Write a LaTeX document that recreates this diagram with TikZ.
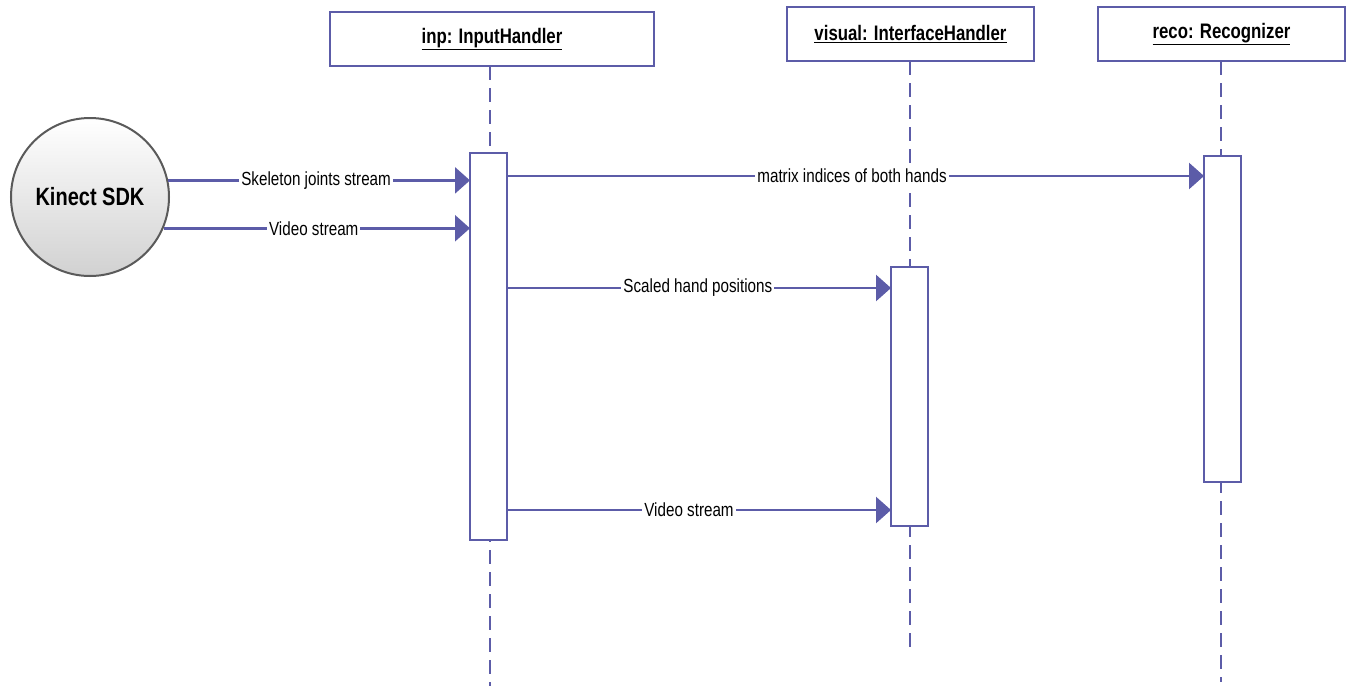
\documentclass[tikz,border=0pt]{standalone}
\usepackage{fontspec}
\setmainfont{Liberation Sans}
\newfontfamily\narrowfont[FakeStretch=0.8]{Liberation Sans}
\usetikzlibrary{arrows.meta}
\definecolor{umlblue}{RGB}{92,92,168}
\definecolor{sdkedge}{RGB}{90,90,90}
\tikzset{
  x=1pt, y=-1pt,
  objbox/.style={draw=umlblue, line width=2pt, fill=white, inner sep=0pt, outer sep=0pt,
     font=\narrowfont\fontsize{21}{24}\selectfont\bfseries},
  actbox/.style={draw=umlblue, line width=2pt, fill=white, inner sep=0pt, outer sep=0pt, minimum width=37pt},
  lifeline/.style={draw=umlblue, line width=2pt, dash pattern=on 14pt off 8pt},
  msg/.style={draw=umlblue, line width=2.6pt, -{Triangle[length=15pt,width=26pt]}},
  msglabel/.style={fill=white, inner sep=2pt, font=\narrowfont\fontsize{19}{21}\selectfont, text=black},
}
\begin{document}
\begin{tikzpicture}
\useasboundingbox (0,0) rectangle (1353,686);
% object boxes
\node[objbox, minimum width=324pt, minimum height=54pt] (inp) at (492,39) {\underline{inp: InputHandler}};
\node[objbox, minimum width=247pt, minimum height=54pt] (visual) at (910.5,34) {\underline{visual: InterfaceHandler}};
\node[objbox, minimum width=247pt, minimum height=54pt] (reco) at (1221.5,34) {\underline{reco: Recognizer}};
% lifeline end points
\coordinate (inpEnd) at (490,686);
\coordinate (visualEnd) at (910,652);
\coordinate (recoEnd) at (1221,682);
\draw[lifeline] (inp.south -| inpEnd) -- (inpEnd);
\draw[lifeline] (visual.south -| visualEnd) -- (visualEnd);
\draw[lifeline] (reco.south -| recoEnd) -- (recoEnd);
% activation boxes
\node[actbox, minimum height=387pt] (inpAct) at (488.5,346.5) {};
\node[actbox, minimum height=259pt] (visualAct) at (909.5,396.5) {};
\node[actbox, minimum height=326pt] (recoAct) at (1222.5,319) {};
% Kinect SDK
\node[circle, draw=sdkedge, line width=2pt, minimum size=158pt, inner sep=0pt,
      top color=white, bottom color=black!18,
      font=\narrowfont\fontsize{25}{28}\selectfont\bfseries] (kinect) at (90,197) {Kinect SDK};
% messages
\draw[msg] (kinect.12) -- (kinect.12 -| inpAct.west)
  node[msglabel, pos=0.49] {Skeleton joints stream};
\draw[msg] (kinect.-23) -- (kinect.-23 -| inpAct.west)
  node[msglabel, pos=0.49] {Video stream};
\coordinate (m1) at (inpAct.east |- 0,176);
\draw[msg] (m1) -- (m1 -| recoAct.west)
  node[msglabel, pos=0.495] {matrix indices of both hands};
\coordinate (m2) at (inpAct.east |- 0,288);
\draw[msg] (m2) -- (m2 -| visualAct.west)
  node[msglabel, pos=0.497] {Scaled hand positions};
\coordinate (m3) at (inpAct.east |- 0,510);
\draw[msg] (m3) -- (m3 -| visualAct.west)
  node[msglabel, pos=0.474] {Video stream};
\end{tikzpicture}
\end{document}
